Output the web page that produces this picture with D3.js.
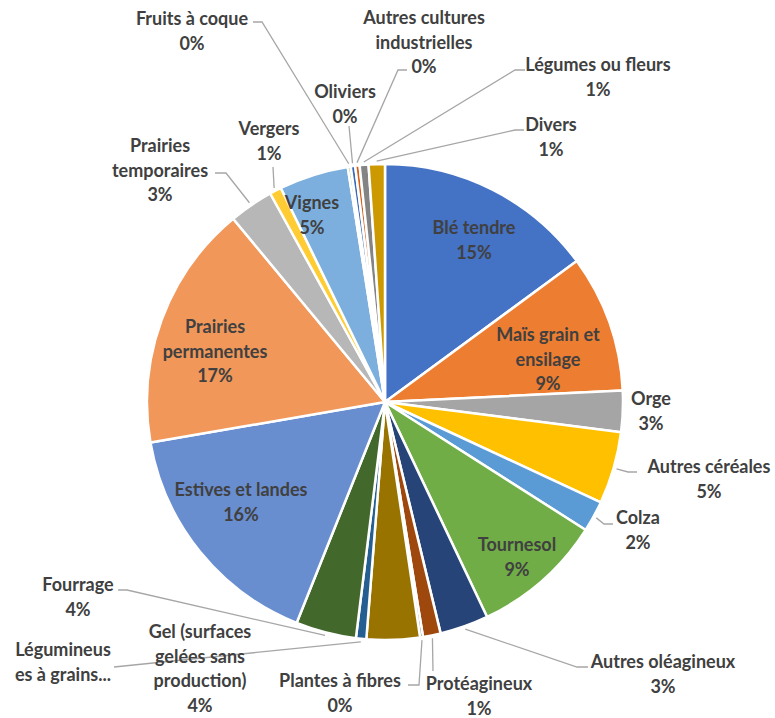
<!DOCTYPE html>
<html><head><meta charset="utf-8">
<script src="https://cdn.jsdelivr.net/npm/d3@7"></script>
<style>
html,body{margin:0;padding:0;background:#fff;}
svg{display:block;}
</style></head>
<body>
<svg id="chart" width="775" height="718"></svg>
<script>
// ---- data ----
const categories = [
  "Blé tendre","Maïs grain et ensilage","Orge","Autres céréales","Colza","Tournesol",
  "Autres oléagineux","Protéagineux","Plantes à fibres","Gel (surfaces gelées sans production)",
  "Légumineuses à grains","Fourrage","Estives et landes","Prairies permanentes",
  "Prairies temporaires","Vergers","Vignes","Fruits à coque","Oliviers",
  "Autres cultures industrielles","Légumes ou fleurs","Divers"
];
const values = [14.9, 9.3, 2.8, 4.9, 2.1, 8.9, 3.3, 1.2, 0.2, 3.6, 0.7, 4.1, 16.2, 16.7, 3.0, 0.8, 4.7, 0.2, 0.3, 0.3, 0.6, 1.1];
const labelLines = [
  ["Blé tendre"],["Maïs grain et","ensilage"],["Orge"],["Autres céréales"],["Colza"],["Tournesol"],
  ["Autres oléagineux"],["Protéagineux"],["Plantes à fibres"],["Gel (surfaces","gelées sans","production)"],
  ["Légumineus","es à grains..."],["Fourrage"],["Estives et landes"],["Prairies","permanentes"],
  ["Prairies","temporaires"],["Vergers"],["Vignes"],["Fruits à coque"],["Oliviers"],
  ["Autres cultures","industrielles"],["Légumes ou fleurs"],["Divers"]
];
const showPercent = [true,true,true,true,true,true,true,true,true,true,false,true,true,true,true,true,true,true,true,true,true,true];
const colors = ["#4472C4","#ED7D31","#A5A5A5","#FFC000","#5B9BD5","#70AD47","#264478","#9E480E","#636363","#997300",
  "#255E91","#43682B","#698ED0","#F1975A","#B7B7B7","#FFCD33","#7CAFDD","#8CC168","#3A67B6","#D2611C","#848484","#CC9A00"];

// ---- layout (label positions: centre x, first line centre y; leader attach & elbow) ----
const labelPos = [
  [474,228],[548,335],[651,399],[709,467],[638,518],[517,545],
  [663,662],[479,684],[340,681],[200,632],
  [63,650],[78,585],[241,490],[215,327],
  [160,146],[269,129],[312,203],[192,19],[345,92],
  [424,18],[598,65],[551,125]
];
const leaders = {
  3:{a:[637,472],e:[628,472]},
  4:{a:[613,524],e:[604,524]},
  6:{a:[588,667],e:[577,667]},
  7:{a:[433,671],e:null},
  8:{a:[408,685],e:[419,685]},
  10:{a:[114,667],e:null},
  11:{a:[118,590],e:[127,590]},
  14:{a:[215,173],e:[226,173]},
  15:{a:[273,167],e:null},
  17:{a:[253,22],e:[262,22]},
  18:{a:[349,126],e:null},
  19:{a:[407,70],e:[398,70]},
  20:{a:[525,70],e:[515,70]},
  21:{a:[524,130],e:[515,130]}
};

const cx = 385, cy = 402, R = 238;
const svg = d3.select("#chart");
const g = svg.append("g").attr("transform", `translate(${cx},${cy})`);
const total = d3.sum(values);
const data = categories.map((c,i)=>({name:c, value:values[i], i}));
const pie = d3.pie().value(d=>d.value).sort(null).startAngle(0).endAngle(2*Math.PI);
const arcs = pie(data);
const arc = d3.arc().innerRadius(0).outerRadius(R);

g.selectAll("path.slice").data(arcs).join("path")
  .attr("class","slice")
  .attr("d", arc)
  .attr("fill", d=>colors[d.data.i])
  .attr("stroke","#fff").attr("stroke-width",2.5).attr("stroke-linejoin","round");

// leader lines
const outerPt = (d, r) => {
  const a = (d.startAngle + d.endAngle)/2;
  return [cx + r*Math.sin(a), cy - r*Math.cos(a)];
};
const lg = svg.append("g");
Object.keys(leaders).forEach(k => {
  const d = arcs[+k];
  const L = leaders[k];
  const p0 = outerPt(d, R + 3);
  const pts = [p0];
  if (L.e) pts.push(L.e);
  pts.push(L.a);
  lg.append("path")
    .attr("d", d3.line()(pts))
    .attr("fill","none").attr("stroke","#A6A6A6").attr("stroke-width",1.3);
});

// labels
const lh = 24.5;
const tg = svg.append("g")
  .attr("font-family","Lato, 'Open Sans', sans-serif")
  .attr("font-weight","700").attr("font-size","18px").attr("fill","#404040");
arcs.forEach(d => {
  const i = d.data.i;
  const lines = labelLines[i].slice();
  if (showPercent[i]) lines.push(Math.round(d.data.value/total*100) + "%");
  const [x,y] = labelPos[i];
  const t = tg.append("text").attr("text-anchor","middle");
  lines.forEach((s,j)=>{
    t.append("tspan").attr("x",x).attr("y",y + j*lh).attr("dy","0.35em").text(s);
  });
});
</script>
</body></html>
